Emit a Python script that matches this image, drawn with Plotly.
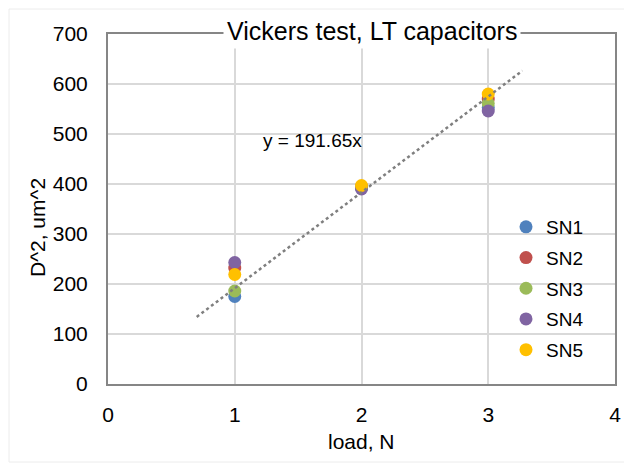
import plotly.graph_objects as go

# load values (N) and squared diagonal (um^2) per sample
loads = [1, 2, 3]
sn1 = [175, 392, 553]
sn2 = [232, 395, 570]
sn3 = [186, 393, 561]
sn4 = [243, 390, 546]
sn5 = [219, 397, 580]

series_names = ['SN1', 'SN2', 'SN3', 'SN4', 'SN5']
series_values = [sn1, sn2, sn3, sn4, sn5]
colors = ['#4F81BD', '#C0504D', '#9BBB59', '#8064A2', '#FFC000']

# trend line through origin, y = 191.65x
slope = 191.65
trend_x = [0.7, 3.27]
trend_y = [slope * v for v in trend_x]

fnt = dict(family='Liberation Sans, Arial, sans-serif', color='#000000')

# page has an 8px body margin, so work in page pixels and shift
OFF = 8
L, T, R, B = 108, 34, 615, 384
W, H = 632 - OFF, 464 - OFF
pw, ph = R - L, B - T

def px_x(p):
    return (p - L) / pw

def px_y(p):
    return (B - p) / ph

data = []
for name, vals, c in zip(series_names, series_values, colors):
    data.append(go.Scatter(
        x=loads, y=vals, name=name, mode='markers', legendgroup=name,
        marker=dict(size=13, color=c),
    ))

data.append(go.Scatter(
    x=trend_x, y=trend_y, mode='lines', showlegend=False,
    line=dict(color='#7f7f7f', width=2.5, dash='dot'),
    hoverinfo='skip',
))

axis_common = dict(
    showgrid=True, gridcolor='#d9d9d9', gridwidth=1.5,
    zeroline=False, showline=True, linecolor='#868686', linewidth=2, mirror=True,
    ticks='', tickfont=dict(size=21, **fnt), automargin=False,
)

layout = go.Layout(
    width=W, height=H,
    margin=dict(l=L - OFF, r=W - (R - OFF), t=T - OFF, b=H - (B - OFF)),
    paper_bgcolor='white',
    plot_bgcolor='white',
    font=dict(size=19, **fnt),
    xaxis=dict(range=[0, 4], dtick=1, ticklabelstandoff=11, **axis_common),
    yaxis=dict(range=[0, 700], dtick=100, ticklabelstandoff=14, **axis_common),
    legend=dict(
        x=px_x(506), y=px_y(208), xanchor='left', yanchor='top',
        bgcolor='rgba(0,0,0,0)', font=dict(size=19, **fnt),
        itemwidth=30, traceorder='grouped', tracegroupgap=3,
    ),
    showlegend=True,
    annotations=[
        dict(text='Vickers test, LT capacitors', xref='paper', yref='paper',
             x=px_x(372), y=px_y(31), xanchor='center', yanchor='middle', showarrow=False,
             bgcolor='white', borderpad=3, font=dict(size=25, **fnt)),
        dict(text='y = 191.65x', xref='x', yref='y', x=1.617, y=488,
             showarrow=False, font=dict(size=19, **fnt)),
        dict(text='load, N', xref='paper', yref='paper', x=0.5, y=px_y(441),
             xanchor='center', yanchor='middle', showarrow=False,
             font=dict(size=21, **fnt)),
        dict(text='D^2, um^2', xref='paper', yref='paper', x=px_x(37), y=px_y(228),
             xanchor='center', yanchor='middle', textangle=-90, showarrow=False,
             font=dict(size=21, **fnt)),
    ],
    shapes=[
        dict(type='rect', xref='paper', yref='paper', layer='below',
             x0=px_x(OFF + 1), x1=px_x(630), y0=px_y(462), y1=px_y(OFF + 1),
             line=dict(color='#ececec', width=1)),
    ],
)

fig = go.Figure(data=data, layout=layout)
fig.write_html("out.html")
